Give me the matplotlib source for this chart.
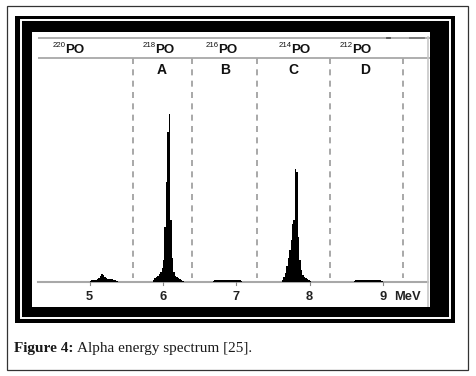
import numpy as np
import matplotlib
matplotlib.use("Agg")
import matplotlib.pyplot as plt
from matplotlib.patches import Rectangle

# ---------------- data ----------------
bin_width = 0.02  # MeV

# counts per 0.02 MeV bin (arbitrary units)
po220_start = 5.00
po220_counts = [1, 2, 2, 2, 2, 3, 4, 6, 8, 7, 5, 4, 3, 3, 3, 3, 2, 2, 1]

peakA_start = 5.86
peakA_counts = [2, 4, 5, 6, 8, 10, 14, 22, 55, 100, 150, 168, 62, 24, 10, 6, 5, 4, 3, 2, 1]

peakB_start = 6.68
peakB_counts = [1, 2, 2, 2, 2, 2, 2, 2, 2, 2, 2, 2, 2, 2, 2, 2, 2, 2, 2, 1]

peakC_start = 7.62
peakC_counts = [2, 5, 9, 16, 24, 32, 42, 58, 62, 113, 110, 45, 22, 12, 7, 5, 4, 3, 2, 1]

peakD_start = 8.60
peakD_counts = [1, 2, 2, 2, 2, 2, 2, 2, 2, 2, 2, 2, 2, 2, 2, 2, 2, 2, 2, 1]

tick_values = [5, 6, 7, 8, 9]
tick_labels = ["5", "6", "7", "8", "9"]
unit_label = "MeV"

isotope_masses = ["220", "218", "216", "214", "212"]
isotope_symbol = "PO"
isotope_x = [4.659, 5.887, 6.747, 7.744, 8.577]

region_letters = ["A", "B", "C", "D"]
region_x = [5.986, 6.846, 7.774, 8.756]

divider_x = [5.59, 6.396, 7.282, 8.278, 9.274]

caption_bold = "Figure 4:"
caption_text = "Alpha energy spectrum [25]."

# ---------------- figure ----------------
W, H = 477, 376
fig = plt.figure(figsize=(W / 100, H / 100), dpi=100)
fig.patch.set_facecolor("white")

bg = fig.add_axes([0, 0, 1, 1])
bg.set_xlim(0, W)
bg.set_ylim(H, 0)
bg.axis("off")

# outer thin frame
bg.add_patch(Rectangle((7, 6), 461, 364, fill=False, edgecolor="#333333", linewidth=0.9))
# thick black frame with inner white line
bg.add_patch(Rectangle((15, 16), 440, 307, facecolor="black", edgecolor="none"))
bg.add_patch(Rectangle((20.6, 19.6), 429, 298.4, fill=False, edgecolor="white", linewidth=1.4))

# main plotting panel
px_left, px_right, px_top, px_bottom = 32, 430, 32, 307
ax = fig.add_axes([px_left / W, 1 - px_bottom / H, (px_right - px_left) / W, (px_bottom - px_top) / H])
ax.set_facecolor("white")
ax.set_xlim(4.213, 9.643)
ax.set_ylim(-25, 250)
for s in ax.spines.values():
    s.set_visible(False)
ax.set_xticks([])
ax.set_yticks([])

line_gray = "#a8a8a8"
x_start = 4.29
x_end = 9.643

# header lines
ax.plot([x_start, x_end], [244, 244], color=line_gray, lw=1.3, solid_capstyle="butt")
ax.plot([x_start, x_end], [224.3, 224.3], color=line_gray, lw=1.3, solid_capstyle="butt")
ax.plot([9.06, 9.10], [244.3, 244.3], color="#555555", lw=1.3)
ax.plot([9.37, 9.56], [244.3, 244.3], color="#777777", lw=1.3)
# right border
ax.plot([9.62, 9.62], [-25, 245], color="#c8c8c8", lw=1.2)

# baseline
ax.plot([x_start, x_end - 0.03], [0, 0], color=line_gray, lw=1.5, zorder=1)

# dashed dividers
for xv in divider_x:
    ax.plot([xv, xv], [224, 4], color="#9a9a9a", lw=1.2, dashes=(3.6, 3.2), zorder=1)

# spectrum
for start, counts in [(po220_start, po220_counts), (peakA_start, peakA_counts),
                      (peakB_start, peakB_counts), (peakC_start, peakC_counts),
                      (peakD_start, peakD_counts)]:
    c = np.asarray(counts, dtype=float)
    edges = start + bin_width * np.arange(len(c) + 1)
    ax.stairs(c, edges, baseline=0, fill=True, color="black", zorder=3)

# ticks and tick labels
for tv, tl in zip(tick_values, tick_labels):
    ax.plot([tv, tv], [0, -3], color="#888888", lw=0.8)
    ax.text(tv, -15, tl, ha="center", va="center", fontsize=9.3,
            fontweight="bold", family="Liberation Sans", color="#222222")
ax.text(9.16, -15, unit_label, ha="left", va="center", fontsize=9.3,
        fontweight="bold", family="Liberation Sans", color="#222222")

# isotope header labels
for m, xv in zip(isotope_masses, isotope_x):
    ax.text(xv, 228.8, isotope_symbol, ha="left", va="baseline", fontsize=9.6,
            fontweight="bold", family="Liberation Sans", color="#111111")
    ax.text(xv + 0.018, 235.3, m, ha="right", va="baseline", fontsize=5.6,
            family="Liberation Sans", color="#111111")

# region letters
for L, xv in zip(region_letters, region_x):
    ax.text(xv, 212, L, ha="center", va="center", fontsize=10,
            fontweight="bold", family="Liberation Sans", color="#111111")

# caption
t1 = fig.text(14 / W, 1 - 352 / H, caption_bold, ha="left", va="baseline",
              fontsize=11, fontweight="bold", family="Liberation Serif", color="#1a1a1a")
fig.canvas.draw()
bb = t1.get_window_extent()
fig.text((bb.x1 + 3.5) / W, 1 - 352 / H, caption_text, ha="left", va="baseline",
         fontsize=11, family="Liberation Serif", color="#1a1a1a")

fig.savefig("out.png", dpi=100, facecolor="white")
